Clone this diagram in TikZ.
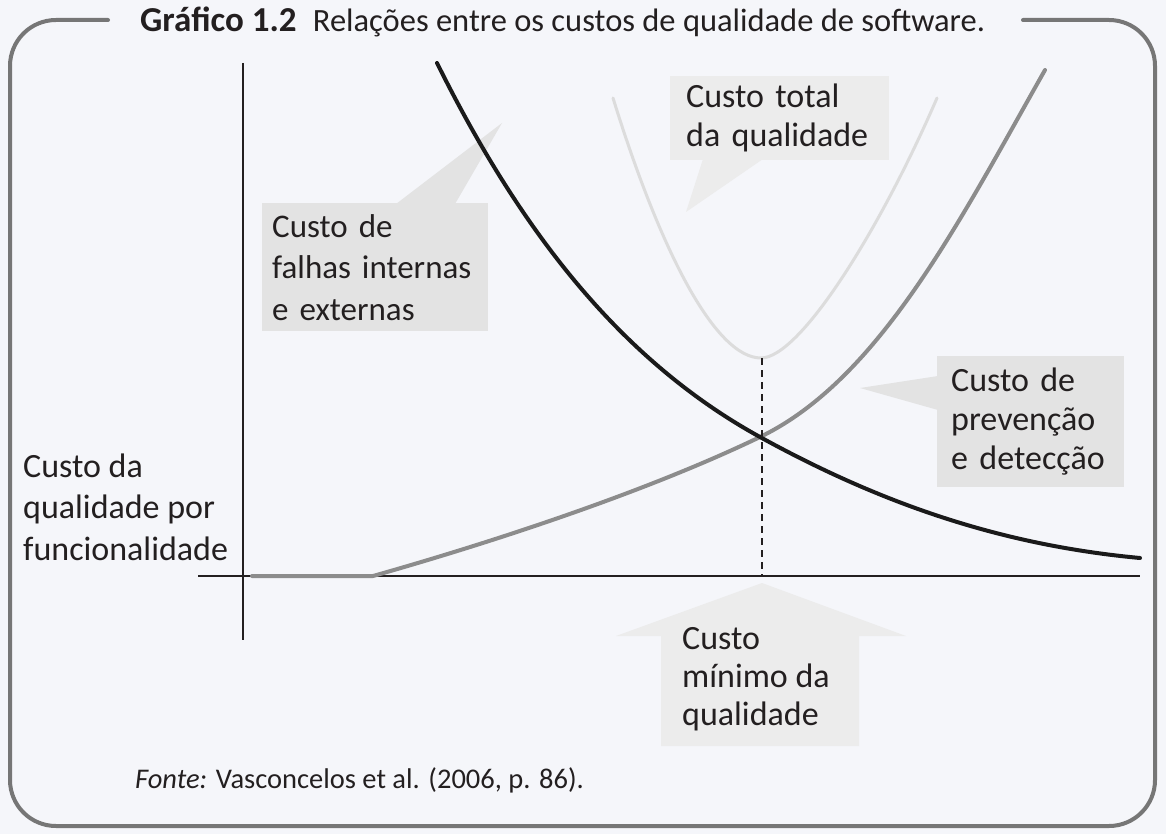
\documentclass[tikz,border=0pt]{standalone}
\usepackage{fontspec}
\setmainfont{Carlito}
\definecolor{fundo}{HTML}{F5F6FA}
\definecolor{moldura}{HTML}{767676}
\definecolor{caixaA}{HTML}{E3E3E3}
\definecolor{caixaB}{HTML}{ECECEC}
\definecolor{texto}{HTML}{231F20}
\definecolor{falha}{HTML}{1A1A1A}
\definecolor{prev}{HTML}{8C8C8C}
\definecolor{total}{HTML}{DCDCDC}
\begin{document}
\begin{tikzpicture}[x=1pt, y=-1pt, line join=round, line cap=round]

    %styles
    \tikzstyle{caixa}=[fill=caixaA, text=texto, align=left, inner ysep=0pt, anchor=north west, font=\fontsize{34}{39}\selectfont]
    \tikzstyle{rotulo}=[text=texto, align=left, inner sep=0pt, font=\fontsize{34}{41.5}\selectfont]
    \tikzstyle{eixo}=[draw=texto, line width=2pt, line cap=butt]

    % background and frame
    \fill[fundo] (0,0) rectangle (1166,834);
    \useasboundingbox (0,0) rectangle (1166,834);
    \draw[moldura, line width=4pt, rounded corners=46pt] (108,20) -- (10,20) -- (10,826) -- (1155,826) -- (1155,20) -- (1023,20);

    % title
    \node[rotulo, anchor=west, font=\fontsize{32.5}{36}\selectfont] (titulo) at (140,22) {{\fontsize{35}{36}\selectfont\textbf{Gráfico 1.2}}\hspace{0.5em}Relações entre os custos de qualidade de software.};

    % callouts
    \node[caixa, font=\fontsize{33}{41.5}\selectfont, text width=206pt, inner xsep=10pt, minimum height=128pt] (falhas) at (262,203) {Custo de\\falhas internas\\e externas};
    \fill[caixaA] (396,204) -- (502,123) -- (455,204) -- cycle;
    \node[caixa, fill=caixaB, text width=187pt, inner xsep=16pt, minimum height=84pt] (totalq) at (670,76) {Custo total\\da qualidade};
    \fill[caixaB] (703,159) -- (686,212) -- (763,159) -- cycle;
    \node[caixa, text width=159pt, inner xsep=14pt, minimum height=131pt] (prevencao) at (937,356) {Custo de\\prevenção\\e detecção};
    \fill[caixaA] (938,376) -- (860,388) -- (938,410) -- cycle;
    \fill[caixaB] (661,746) -- (661,636) -- (616,636) -- (762,583) -- (906,636) -- (859,636) -- (859,746) -- cycle;
    \node[rotulo, anchor=west, font=\fontsize{34}{38}\selectfont] (minimo) at (682,679) {Custo\\mínimo da\\qualidade};

    % axes
    \draw[eixo] (243,63) -- (243,640);
    \draw[eixo] (198,576) -- (1140,576);
    \node[rotulo, anchor=west] (custo) at (23,507) {Custo da\\qualidade por\\funcionalidade};

    % curves
    \draw[total, line width=3pt] (613,98) .. controls (660,250) and (715,358) .. (761,358) .. controls (800,358) and (880,230) .. (937,98);
    \draw[prev, line width=4pt] (252,576) -- (373,576) .. controls (500,540) and (650,490) .. (760,437) .. controls (880,379) and (960,220) .. (1045,70);
    \draw[falha, line width=4pt] (437,63) .. controls (520,230) and (620,360) .. (760,437) .. controls (880,503) and (1000,545) .. (1140,558);
    \draw[texto, line width=2pt, line cap=butt, dash pattern=on 7pt off 5pt] (762,358) -- (762,576);

    % source
    \node[rotulo, anchor=west, font=\fontsize{28.5}{32}\selectfont] (fonte) at (135,780) {\textit{Fonte:} Vasconcelos et al. (2006, p. 86).};
\end{tikzpicture}
\end{document}
